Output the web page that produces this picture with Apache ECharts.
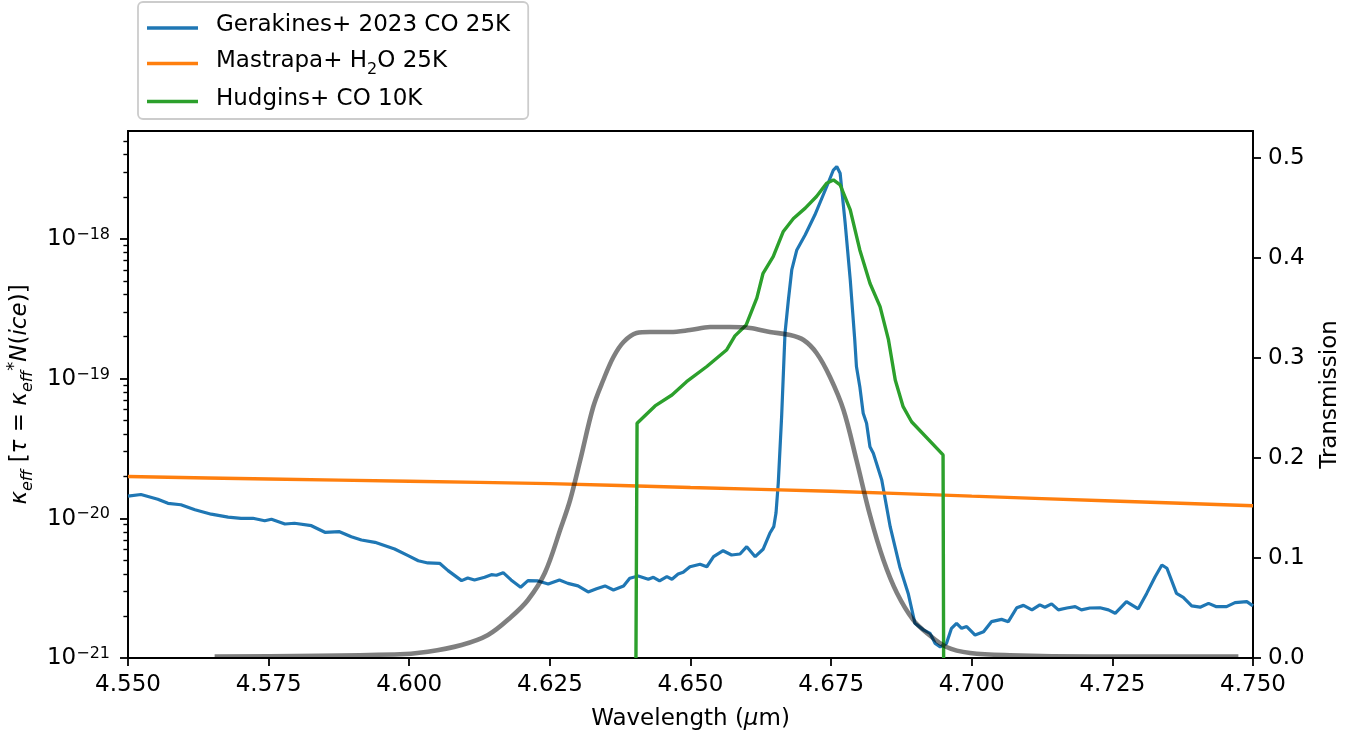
<!DOCTYPE html>
<html>
<head>
<meta charset="utf-8">
<script src="https://cdn.jsdelivr.net/npm/echarts@6/dist/echarts.min.js"></script>
<style>html,body{margin:0;padding:0;background:#fff;}#chart{width:1352px;height:730px;}</style>
</head>
<body>
<div id="chart"></div>
<script>
// ---- Data ----
const gerakinesWavelength = [4.5500,4.5523,4.5553,4.5571,4.5594,4.5619,4.5648,4.5678,4.5701,4.5722,4.5743,4.5755,4.5779,4.5796,4.5826,4.5850,4.5876,4.5897,4.5915,4.5939,4.5974,4.5998,4.6016,4.6033,4.6054,4.6069,4.6093,4.6104,4.6116,4.6134,4.6146,4.6155,4.6167,4.6181,4.6198,4.6211,4.6229,4.6247,4.6267,4.6282,4.6300,4.6318,4.6333,4.6348,4.6363,4.6381,4.6392,4.6407,4.6425,4.6434,4.6445,4.6458,4.6467,4.6478,4.6487,4.6499,4.6517,4.6529,4.6541,4.6558,4.6573,4.6588,4.6600,4.6615,4.6629,4.6641,4.6648,4.6652,4.6656,4.6662,4.6668,4.6674,4.6680,4.6689,4.6704,4.6721,4.6742,4.6754,4.6760,4.6766,4.6775,4.6784,4.6792,4.6795,4.6801,4.6807,4.6813,4.6819,4.6825,4.6840,4.6855,4.6872,4.6887,4.6899,4.6914,4.6926,4.6935,4.6944,4.6955,4.6964,4.6973,4.6982,4.6991,4.7006,4.7021,4.7035,4.7053,4.7065,4.7080,4.7092,4.7107,4.7121,4.7130,4.7142,4.7154,4.7169,4.7184,4.7195,4.7210,4.7228,4.7243,4.7255,4.7275,4.7296,4.7311,4.7326,4.7338,4.7347,4.7364,4.7376,4.7391,4.7406,4.7421,4.7435,4.7453,4.7468,4.7489,4.7500];
const gerakinesKappa = [1.44e-20,1.48e-20,1.37e-20,1.28e-20,1.25e-20,1.15e-20,1.07e-20,1.02e-20,1.00e-20,1.00e-20,9.61e-21,9.84e-21,9.10e-21,9.21e-21,8.85e-21,7.94e-21,8.02e-21,7.38e-21,6.99e-21,6.73e-21,6.03e-21,5.40e-21,4.97e-21,4.79e-21,4.76e-21,4.22e-21,3.58e-21,3.74e-21,3.62e-21,3.78e-21,3.95e-21,3.91e-21,4.08e-21,3.62e-21,3.21e-21,3.58e-21,3.56e-21,3.39e-21,3.62e-21,3.42e-21,3.28e-21,2.97e-21,3.13e-21,3.28e-21,3.07e-21,3.28e-21,3.72e-21,3.86e-21,3.66e-21,3.78e-21,3.56e-21,3.82e-21,3.66e-21,3.99e-21,4.11e-21,4.50e-21,4.69e-21,4.50e-21,5.31e-21,5.86e-21,5.46e-21,5.55e-21,6.26e-21,5.31e-21,6.00e-21,7.81e-21,8.71e-21,1.09e-20,1.78e-20,5.34e-20,2.11e-19,3.65e-19,5.99e-19,8.33e-19,1.07e-18,1.48e-18,2.36e-18,3.11e-18,3.29e-18,2.95e-18,1.29e-18,5.08e-19,1.89e-19,1.22e-19,8.75e-20,5.64e-20,4.79e-20,3.25e-20,2.92e-20,1.88e-20,8.71e-21,4.50e-21,2.90e-21,1.77e-21,1.59e-21,1.50e-21,1.27e-21,1.20e-21,1.27e-21,1.63e-21,1.77e-21,1.63e-21,1.68e-21,1.46e-21,1.54e-21,1.82e-21,1.89e-21,1.82e-21,2.29e-21,2.38e-21,2.21e-21,2.40e-21,2.31e-21,2.44e-21,2.21e-21,2.28e-21,2.33e-21,2.21e-21,2.28e-21,2.29e-21,2.21e-21,2.09e-21,2.53e-21,2.25e-21,2.90e-21,3.82e-21,4.63e-21,4.39e-21,2.90e-21,2.72e-21,2.36e-21,2.31e-21,2.46e-21,2.33e-21,2.33e-21,2.49e-21,2.53e-21,2.36e-21];

const mastrapaWavelength = [4.550,4.575,4.600,4.625,4.650,4.675,4.700,4.725,4.750];
const mastrapaKappa = [1.99e-20,1.91e-20,1.84e-20,1.77e-20,1.66e-20,1.56e-20,1.44e-20,1.33e-20,1.23e-20];

const hudginsWavelength = [4.6403,4.6405,4.6437,4.6467,4.6493,4.6529,4.6564,4.6579,4.6599,4.6618,4.6629,4.6647,4.6665,4.6683,4.6704,4.6724,4.6742,4.6754,4.6766,4.6784,4.6801,4.6819,4.6837,4.6852,4.6864,4.6878,4.6893,4.6949,4.6950];
const hudginsKappa = [1e-21,4.79e-20,6.37e-20,7.63e-20,9.50e-20,1.22e-19,1.60e-19,2.02e-19,2.42e-19,3.78e-19,5.67e-19,7.46e-19,1.13e-18,1.40e-18,1.66e-18,2.01e-18,2.50e-18,2.64e-18,2.43e-18,1.61e-18,8.33e-19,4.81e-19,3.27e-19,1.89e-19,9.77e-20,6.29e-20,4.91e-20,2.84e-20,1e-21];

const filterWavelength = [4.5654,4.5974,4.6033,4.6093,4.6140,4.6181,4.6211,4.6241,4.6270,4.6286,4.6304,4.6327,4.6345,4.6363,4.6381,4.6404,4.6428,4.6464,4.6499,4.6535,4.6570,4.6606,4.6641,4.6677,4.6701,4.6724,4.6748,4.6772,4.6795,4.6819,4.6843,4.6867,4.6896,4.6920,4.6955,4.6997,4.7068,4.7216,4.7474];
const filterTransmission = [0.0015,0.0035,0.0063,0.013,0.023,0.041,0.058,0.085,0.131,0.158,0.198,0.251,0.278,0.301,0.316,0.325,0.326,0.326,0.328,0.331,0.331,0.330,0.326,0.323,0.318,0.305,0.281,0.248,0.198,0.143,0.098,0.065,0.038,0.025,0.011,0.005,0.0027,0.0015,0.0015];

const xTickValues = [4.550,4.575,4.600,4.625,4.650,4.675,4.700,4.725,4.750];
const kappaMajorTicks = [1e-21,1e-20,1e-19,1e-18];
const kappaMinorTicks = [2e-21,3e-21,4e-21,5e-21,6e-21,7e-21,8e-21,9e-21,2e-20,3e-20,4e-20,5e-20,6e-20,7e-20,8e-20,9e-20,2e-19,3e-19,4e-19,5e-19,6e-19,7e-19,8e-19,9e-19,2e-18,3e-18,4e-18,5e-18];
const transmissionTicks = [0,0.1,0.2,0.3,0.4,0.5];

const seriesNames = ['Gerakines+ 2023 CO 25K','Mastrapa+ H2O 25K','Hudgins+ CO 10K'];
// ---------------------------------------------

const zip = (a, b) => a.map((v, i) => [v, b[i]]);
const FONT = 'DejaVu Sans';
const FS = 23;
const supMinus = n => String(n).replace('-', '\u2212');

const chart = echarts.init(document.getElementById('chart'), null, {renderer: 'canvas'});
const option = {
  animation: false,
  backgroundColor: '#fff',
  textStyle: {fontFamily: FONT},
  grid: {left: 128, right: 99, top: 131, bottom: 72, containLabel: false, outerBoundsMode: 'none',
         show: true, borderColor: '#000', borderWidth: 1.8, backgroundColor: 'transparent'},
  legend: {
    data: seriesNames,
    orient: 'vertical',
    left: 138, top: 2,
    padding: [12, 18, 6, 9],
    icon: 'rect',
    itemWidth: 51, itemHeight: 3.4, itemGap: 10,
    borderColor: '#cccccc', borderWidth: 1.8, borderRadius: 5,
    backgroundColor: 'rgba(255,255,255,0.8)',
    formatter: name => {
      if (name.indexOf('H2O') >= 0) {
        const parts = name.split('H2O');
        return '{g| }{n|' + parts[0] + 'H}{s|2}{n|O' + parts[1] + '}';
      }
      return '{g| }{n|' + name + '}';
    },
    textStyle: {
      fontFamily: FONT, fontSize: FS, color: '#000',
      rich: {
        g: {width: 13, fontSize: FS},
        n: {fontFamily: FONT, fontSize: FS, color: '#000', verticalAlign: 'bottom', padding: [0, 0, 5, 0]},
        s: {fontFamily: FONT, fontSize: 16, color: '#000', verticalAlign: 'bottom'}
      }
    }
  },
  xAxis: {
    type: 'value', min: 4.55, max: 4.75, interval: 0.025,
    name: '{r|Wavelength (}{i|\u03bc}{r|m)}',
    nameLocation: 'middle', nameGap: 50,
    nameTextStyle: {fontFamily: FONT, fontSize: FS, color: '#000',
      rich: {r: {fontFamily: FONT, fontSize: FS, color: '#000'}, i: {fontFamily: FONT, fontSize: FS, fontStyle: 'italic', color: '#000'}}},
    axisLine: {show: true, onZero: false, lineStyle: {color: '#000', width: 1.8}},
    axisTick: {show: true, inside: false, length: 8, lineStyle: {color: '#000', width: 1.8}, customValues: xTickValues},
    axisLabel: {color: '#000', fontFamily: FONT, fontSize: FS, margin: 16, customValues: xTickValues, formatter: v => v.toFixed(3)},
    splitLine: {show: false}
  },
  yAxis: [
    {
      type: 'log', logBase: 10, min: 1e-21, max: 5.915e-18, position: 'left',
      name: '{i|\u03ba}{s|eff}{r| [}{i|\u03c4}{r| = }{i|\u03ba}{s|eff}{p|*}{i|N}{r|(}{i|ice}{r|)]}',
      nameLocation: 'middle', nameGap: 80, nameRotate: 90,
      nameTextStyle: {fontFamily: FONT, fontSize: FS, color: '#000',
        rich: {
          i: {fontFamily: FONT, fontSize: FS, fontStyle: 'italic', color: '#000', verticalAlign: 'bottom', padding: [0, 0, 5, 0]},
          r: {fontFamily: FONT, fontSize: FS, color: '#000', verticalAlign: 'bottom', padding: [0, 0, 5, 0]},
          s: {fontFamily: FONT, fontSize: 16, fontStyle: 'italic', color: '#000', verticalAlign: 'bottom'},
          p: {fontFamily: FONT, fontSize: 18, color: '#000', verticalAlign: 'bottom', padding: [0, 0, 13, 0]}
        }},
      axisLine: {show: true, lineStyle: {color: '#000', width: 1.8}},
      axisTick: {show: true, inside: false, length: 8, lineStyle: {color: '#000', width: 1.8}, customValues: kappaMajorTicks},
      axisLabel: {
        color: '#000', fontFamily: FONT, fontSize: FS, margin: 18, customValues: kappaMajorTicks,
        formatter: v => '{b|10}{e|' + supMinus(Math.round(Math.log10(v))) + '}',
        rich: {
          b: {fontFamily: FONT, fontSize: FS, color: '#000', verticalAlign: 'bottom'},
          e: {fontFamily: FONT, fontSize: 16, color: '#000', verticalAlign: 'bottom', padding: [0, 0, 8, 0]}
        }
      },
      splitLine: {show: false}, minorTick: {show: false}
    },
    {
      type: 'log', logBase: 10, min: 1e-21, max: 5.915e-18, position: 'left',
      axisLine: {show: false},
      axisTick: {show: true, inside: false, length: 4.6, lineStyle: {color: '#000', width: 1.4}, customValues: kappaMinorTicks},
      axisLabel: {show: false},
      splitLine: {show: false}
    },
    {
      type: 'value', min: 0, max: 0.527, interval: 0.1, position: 'right',
      name: 'Transmission', nameLocation: 'middle', nameGap: 66, nameRotate: 90,
      nameTextStyle: {fontFamily: FONT, fontSize: FS, color: '#000'},
      axisLine: {show: true, lineStyle: {color: '#000', width: 1.8}},
      axisTick: {show: true, inside: false, length: 8, lineStyle: {color: '#000', width: 1.8}, customValues: transmissionTicks},
      axisLabel: {color: '#000', fontFamily: FONT, fontSize: FS, margin: 15, customValues: transmissionTicks, formatter: v => v.toFixed(1)},
      splitLine: {show: false}
    }
  ],
  series: [
    {name: seriesNames[0], type: 'line', yAxisIndex: 0, data: zip(gerakinesWavelength, gerakinesKappa),
     showSymbol: false, symbol: 'none', clip: true, lineStyle: {color: '#1f77b4', width: 3.2}, itemStyle: {color: '#1f77b4'}, z: 3},
    {name: seriesNames[1], type: 'line', yAxisIndex: 0, data: zip(mastrapaWavelength, mastrapaKappa),
     showSymbol: false, symbol: 'none', clip: true, smooth: 0.3, lineStyle: {color: '#ff7f0e', width: 3.4}, itemStyle: {color: '#ff7f0e'}, z: 3},
    {name: seriesNames[2], type: 'line', yAxisIndex: 0, data: zip(hudginsWavelength, hudginsKappa),
     showSymbol: false, symbol: 'none', clip: true, lineStyle: {color: '#2ca02c', width: 3.4}, itemStyle: {color: '#2ca02c'}, z: 3},
    {name: 'filter', type: 'line', yAxisIndex: 2, data: zip(filterWavelength, filterTransmission),
     showSymbol: false, symbol: 'none', clip: true, smooth: 0.35, lineStyle: {color: 'rgba(0,0,0,0.5)', width: 4.6}, itemStyle: {color: 'rgba(0,0,0,0.5)'}, z: 4}
  ]
};
chart.setOption(option);
</script>
</body>
</html>
